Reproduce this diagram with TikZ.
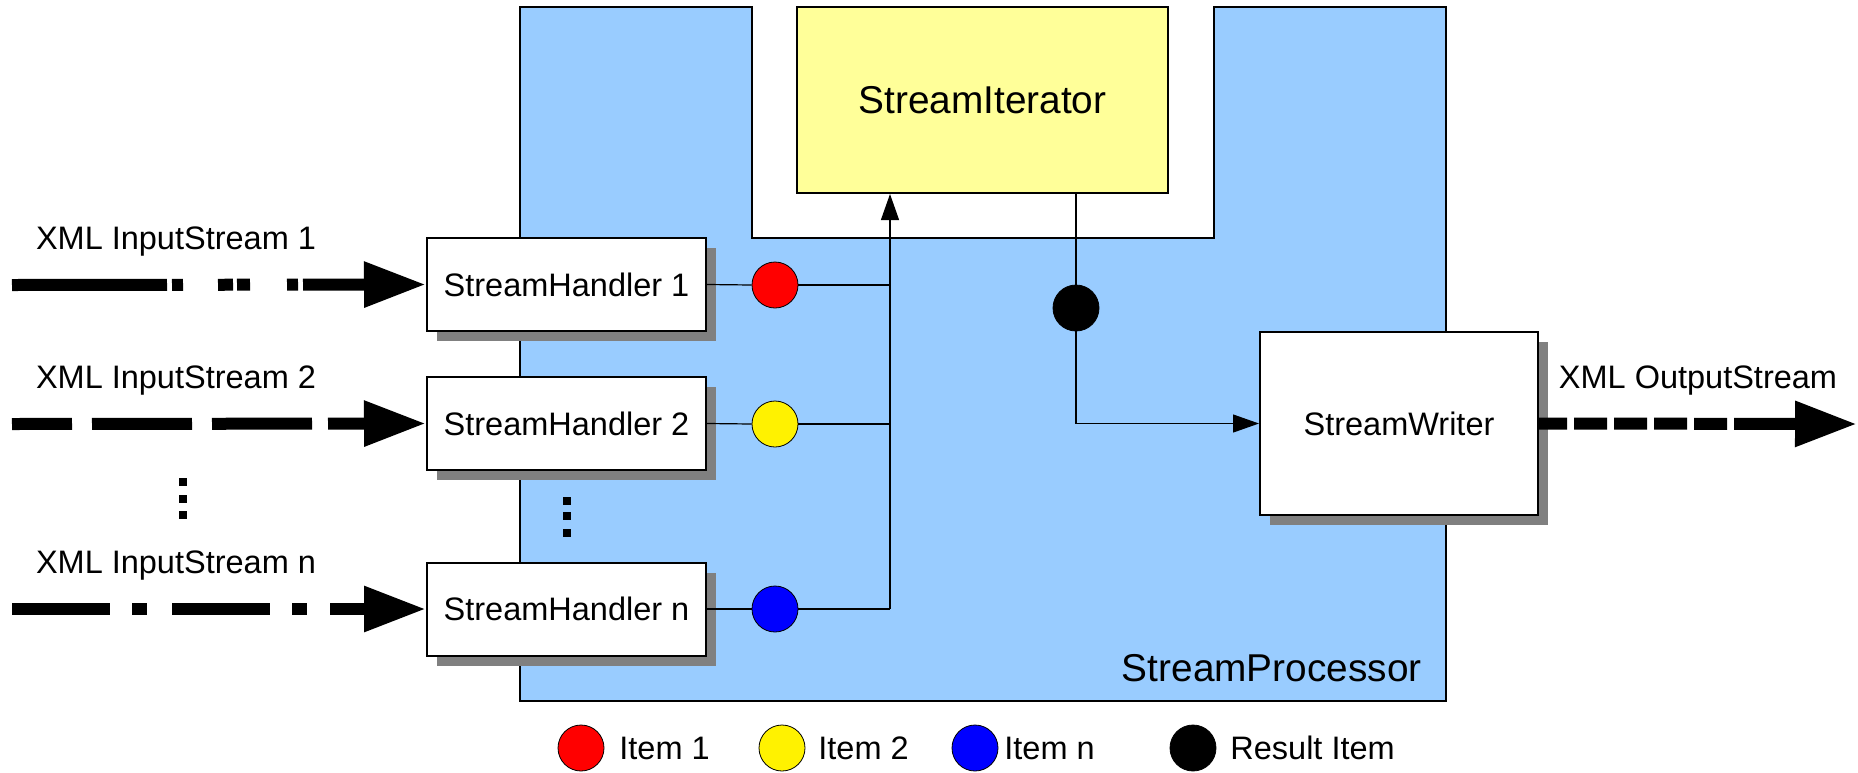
\documentclass[tikz,border=0pt]{standalone}
\usepackage{fontspec}
\setmainfont{Liberation Sans}
\usetikzlibrary{arrows.meta,shadows}
\definecolor{procblue}{HTML}{99CCFF}
\definecolor{iteryellow}{HTML}{FFFF99}
\definecolor{shadowgray}{HTML}{808080}
\begin{document}
\begin{tikzpicture}[x={(0.5pt,0)}, y={(0,-0.5pt)},
  normalfont/.style={font=\fontsize{16.25}{19}\selectfont},
  bigfont/.style={font=\fontsize{19.4}{23}\selectfont},
  boxshadow/.style={drop shadow={shadow xshift=5pt, shadow yshift=-5pt, fill=shadowgray, opacity=1}},
  handlerbox/.style={draw, fill=white, line width=1pt, minimum width=139.5pt, minimum height=46.5pt, inner sep=0pt, normalfont, boxshadow},
  writerbox/.style={draw, fill=white, line width=1pt, minimum width=139pt, minimum height=91.5pt, inner sep=0pt, normalfont, boxshadow},
  iterbox/.style={draw, fill=iteryellow, line width=1pt, minimum width=185.5pt, minimum height=93pt, inner sep=0pt, bigfont},
  item/.style={circle, draw, line width=0.4pt, minimum size=23pt, inner sep=0pt},
  lbl/.style={normalfont, inner sep=0pt},
  conn/.style={line width=0.6pt},
  connarrow/.style={line width=0.6pt, -{Triangle[length=13pt,width=9pt]}},
  inarrow/.style={line width=6pt, line cap=butt, -{Triangle[length=31pt,width=21.5pt]}},
  dotsq/.style={fill=black}
]
\useasboundingbox (0,0) rectangle (1858,772);

% StreamProcessor region with notch
\draw[fill=procblue, line width=0.6pt] (520,7) -- (752,7) -- (752,238) -- (1214,238) -- (1214,7) -- (1446,7) -- (1446,701) -- (520,701) -- cycle;
\node[bigfont, inner sep=0pt, anchor=base east] (proc) at (1422,681) {StreamProcessor};

% Iterator
\node[iterbox] (it) at (982.5,100) {StreamIterator};

% Handlers
\node[handlerbox] (h1) at (566.5,284.5) {StreamHandler 1};
\node[handlerbox] (h2) at (566.5,423.5) {StreamHandler 2};
\node[handlerbox] (hn) at (566.5,609) {StreamHandler n};

% Writer
\node[writerbox] (sw) at (1399,423.5) {StreamWriter};

% Items
\node[item, fill=red] (c1) at (775,285) {};
\node[item, fill=yellow] (c2) at (775,424) {};
\node[item, fill=blue] (cn) at (775,609) {};
\node[item, fill=black] (res) at (1076,308) {};

% junctions
\coordinate (j1) at (890,285);
\coordinate (j2) at (890,424);
\coordinate (jn) at (890,609);

\draw[conn] (h1.east) -- (c1.west);
\draw[conn] (c1.east) -- (j1);
\draw[conn] (h2.east) -- (c2.west);
\draw[conn] (c2.east) -- (j2);
\draw[conn] (hn.east) -- (cn.west);
\draw[conn] (cn.east) -- (jn);
\draw[connarrow] (jn) -- (jn |- it.south);

\draw[conn] (it.south -| res) -- (res.north);
\draw[connarrow] (res.south) |- (sw.west);

% Input streams
\coordinate (s1) at (12,285);
\coordinate (s2) at (12,424);
\coordinate (sn) at (12,609);
\coordinate (oend) at (1857,424);

\draw[inarrow, dash pattern=on 77.5pt off 2.5pt on 5.5pt off 17.5pt on 7.5pt off 2pt on 6.5pt off 18.5pt on 5.5pt off 2.5pt on 40pt off 100pt] (s1) -- (h1.west);
\draw[inarrow, dash pattern=on 30pt off 10pt on 50pt off 10pt on 50pt off 8pt on 30pt off 100pt] (s2) -- (h2.west);
\draw[inarrow, dash pattern=on 49pt off 11pt on 7.5pt off 12.5pt on 49pt off 11pt on 7.5pt off 11.5pt on 30pt off 100pt] (sn) -- (hn.west);
\draw[inarrow, dash pattern=on 14pt off 3.5pt on 16.5pt off 3.5pt on 16.5pt off 3.5pt on 16.5pt off 3.5pt on 16.5pt off 3.5pt on 40pt off 100pt] (sw.east) -- (oend);

\node[lbl, anchor=base] (l1) at (176,249.5) {XML InputStream 1};
\node[lbl, anchor=base] (l2) at (176,388.5) {XML InputStream 2};
\node[lbl, anchor=base] (ln) at (176,573.5) {XML InputStream n};
\node[lbl, anchor=base] (lo) at (1698,388.5) {XML OutputStream};

% vertical ellipsis dots
\fill[dotsq] (179,478) rectangle (187,486);
\fill[dotsq] (179,494.5) rectangle (187,502.5);
\fill[dotsq] (179,510.5) rectangle (187,518.5);
\fill[dotsq] (563,497) rectangle (571,504.5);
\fill[dotsq] (563,512) rectangle (571,520);
\fill[dotsq] (563,529) rectangle (571,536.5);

% Legend
\node[item, fill=red] (g1) at (581,748) {};
\node[lbl, anchor=base west] (gl1) at (619,759.5) {Item 1};
\node[item, fill=yellow] (g2) at (782,748) {};
\node[lbl, anchor=base west] (gl2) at (818,759.5) {Item 2};
\node[item, fill=blue] (gn) at (975,748) {};
\node[lbl, anchor=base west] (gln) at (1004,759.5) {Item n};
\node[item, fill=black] (gr) at (1193,748) {};
\node[lbl, anchor=base west] (glr) at (1230,759.5) {Result Item};
\end{tikzpicture}
\end{document}
